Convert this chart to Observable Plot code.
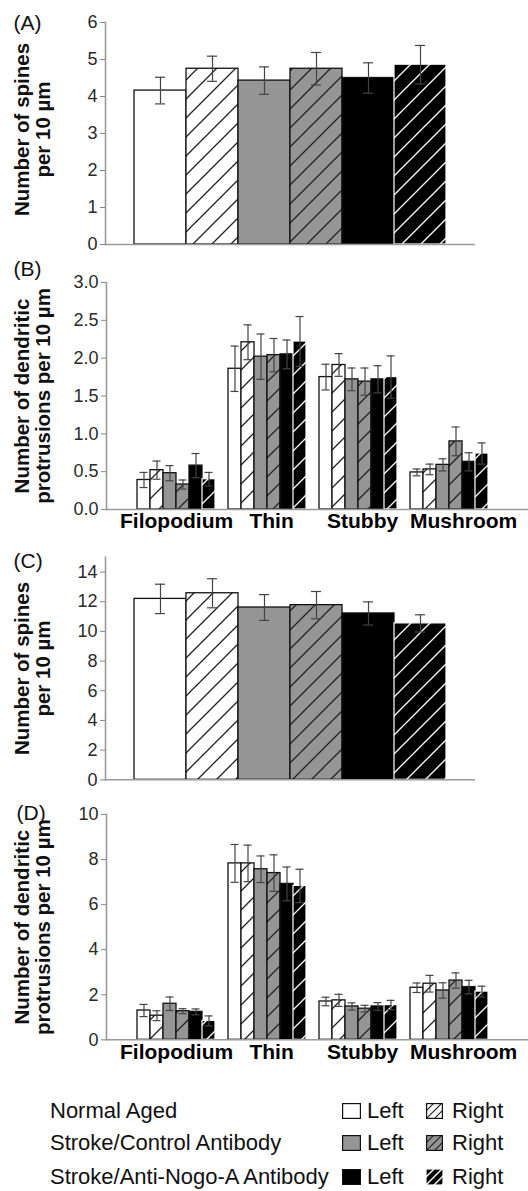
<!DOCTYPE html>
<html><head><meta charset="utf-8">
<script src="https://cdn.jsdelivr.net/npm/d3@7"></script>
<script src="https://cdn.jsdelivr.net/npm/@observablehq/plot@0.6"></script>
<style>
body{margin:0;background:#fff;font-family:"Liberation Sans",Arial,sans-serif;}
#wrap{width:528px;}
#wrap svg{display:block;}
#legend{position:relative;width:528px;height:121px;font-size:22px;color:#111;}
.row{position:absolute;left:0;width:528px;height:26px;line-height:26px;}
.row span,.row svg{position:absolute;}
</style></head><body>
<svg width="0" height="0" style="position:absolute">
<defs>
 <pattern id="hatchW" patternUnits="userSpaceOnUse" width="19" height="19">
  <rect width="19" height="19" fill="#fff"/>
  <path d="M0,19 L19,0 M-2,2 L2,-2 M17,21 L21,17" stroke="#222" stroke-width="1.3"/>
 </pattern>
 <pattern id="hatchG" patternUnits="userSpaceOnUse" width="19" height="19">
  <rect width="19" height="19" fill="#959595"/>
  <path d="M0,19 L19,0 M-2,2 L2,-2 M17,21 L21,17" stroke="#222" stroke-width="1.3"/>
 </pattern>
 <pattern id="hatchK" patternUnits="userSpaceOnUse" width="19" height="19">
  <rect width="19" height="19" fill="#000"/>
  <path d="M0,19 L19,0 M-2,2 L2,-2 M17,21 L21,17" stroke="#fff" stroke-width="1.3"/>
 </pattern>
 <pattern id="sHatchW" patternUnits="userSpaceOnUse" width="8" height="8">
  <rect width="8" height="8" fill="#fff"/>
  <path d="M0,8 L8,0 M-2,2 L2,-2 M6,10 L10,6" stroke="#222" stroke-width="1.2"/>
 </pattern>
 <pattern id="sHatchG" patternUnits="userSpaceOnUse" width="8" height="8">
  <rect width="8" height="8" fill="#959595"/>
  <path d="M0,8 L8,0 M-2,2 L2,-2 M6,10 L10,6" stroke="#222" stroke-width="1.2"/>
 </pattern>
 <pattern id="sHatchK" patternUnits="userSpaceOnUse" width="8" height="8">
  <rect width="8" height="8" fill="#000"/>
  <path d="M0,8 L8,0 M-2,2 L2,-2 M6,10 L10,6" stroke="#fff" stroke-width="1.4"/>
 </pattern>
</defs></svg>
<div id="wrap"></div>
<div id="legend"></div>
<script>
// ---------- data ----------
const series = ["Normal Aged Left","Normal Aged Right","Stroke/Control Left","Stroke/Control Right","Anti-Nogo-A Left","Anti-Nogo-A Right"];
const groups = ["Normal Aged","Stroke/Control Antibody","Stroke/Anti-Nogo-A Antibody"];
const sides = ["Left","Right"];
const seriesFill = ["#fff","url(#hatchW)","#959595","url(#hatchG)","#000","url(#hatchK)"];
const swatchFill = [["#fff","url(#sHatchW)"],["#959595","url(#sHatchG)"],["#000","url(#sHatchK)"]];

const spinesA = [4.16,4.75,4.43,4.75,4.50,4.86];
const spinesAErr = [0.36,0.34,0.37,0.44,0.41,0.52];

const types = ["Filopodium","Thin","Stubby","Mushroom"];
const protB = [
  [0.39,0.52,0.48,0.33,0.58,0.40],
  [1.86,2.21,2.02,2.04,2.05,2.22],
  [1.75,1.91,1.72,1.69,1.72,1.75],
  [0.49,0.53,0.59,0.90,0.63,0.74]];
const protBErr = [
  [0.10,0.12,0.10,0.06,0.16,0.09],
  [0.30,0.23,0.30,0.22,0.19,0.33],
  [0.17,0.15,0.15,0.18,0.18,0.28],
  [0.045,0.07,0.08,0.19,0.12,0.14]];

const spinesC = [12.19,12.57,11.61,11.77,11.21,10.54];
const spinesCErr = [0.99,0.98,0.87,0.92,0.78,0.58];

const protD = [
  [1.30,1.07,1.60,1.27,1.24,0.84],
  [7.83,7.83,7.57,7.40,6.92,6.83],
  [1.70,1.75,1.48,1.38,1.48,1.54],
  [2.31,2.49,2.19,2.63,2.34,2.14]];
const protDErr = [
  [0.27,0.22,0.30,0.11,0.13,0.22],
  [0.84,0.81,0.59,0.81,0.75,0.74],
  [0.19,0.27,0.16,0.15,0.17,0.21],
  [0.21,0.37,0.34,0.34,0.30,0.24]];

const ticksA = [0,1,2,3,4,5,6];
const ticksB = [0,0.5,1,1.5,2,2.5,3];
const ticksC = [0,2,4,6,8,10,12,14];
const ticksD = [0,2,4,6,8,10];
const titleSpines = "Number of spines\nper 10 µm";
const titleProt = "Number of dendritic\nprotrusions per 10 µm";

// ---------- drawing ----------
const font = '"Liberation Sans", Arial, sans-serif';
const axisGray = "#9a9a9a";
const errColor = "#444";
const labelNudge = [0, 4, 4, 14]; // small horizontal nudges of the group labels, as in the figure

function commonMarks(data, xKey, o) {
  return [
    Plot.barY(data, {x: xKey, y: "v", fill: "s", stroke: "#111", strokeWidth: 1.3, filter: d => d.s !== series[5]}),
    Plot.barY(data, {x: xKey, y: "v", fill: "s", stroke: "#fff", strokeWidth: 1.2, filter: d => d.s === series[5]}),
    Plot.ruleX(data, {x: xKey, y1: d => d.v - d.e, y2: d => d.v + d.e, stroke: errColor, strokeWidth: 1.2}),
    Plot.tickY(data, {x: xKey, y: d => d.v + d.e, inset: o.capInset, stroke: errColor, strokeWidth: 1.2}),
    Plot.tickY(data, {x: xKey, y: d => d.v - d.e, inset: o.capInset, stroke: errColor, strokeWidth: 1.2}),
    Plot.ruleY([0], {stroke: axisGray, strokeWidth: 1.6}),
    Plot.frame({anchor: "left", stroke: axisGray, strokeWidth: 1.6}),
    Plot.axisY({ticks: o.ticks, tickFormat: o.tickFormat, tickSize: 5, tickPadding: 3, stroke: "#888", color: "#2a2a2a", label: null, fontSize: 18}),
    Plot.text([o.title], {text: d => d, frameAnchor: "left", rotate: -90, textAnchor: "middle", dx: o.titleDx, dy: o.titleDy, lineHeight: 1.05, lineAnchor: "middle", fontWeight: "bold", fontSize: 20.5, fill: "#111"}),
    Plot.text([o.tag], {text: d => d, frameAnchor: "top-left", textAnchor: "start", lineAnchor: "middle", dx: o.tagDx, dy: o.tagDy, fontSize: 21, fill: "#111"})
  ];
}

function simplePanel(values, errs, o) {
  const data = series.map((s, i) => ({s, v: values[i], e: errs[i]}));
  return Plot.plot({
    width: 528, height: o.height,
    marginTop: o.mt, marginBottom: o.mb, marginLeft: 105, marginRight: 53,
    style: {fontFamily: font, fontSize: "18px", background: "#fff", overflow: "visible"},
    x: {domain: series, paddingInner: 0, paddingOuter: 0.5, axis: null},
    y: {domain: o.domain},
    color: {domain: series, range: seriesFill},
    marks: commonMarks(data, "s", o)
  });
}

function groupedPanel(values, errs, o) {
  const key = (t, s) => t + "|" + s;
  // one slot per bar, plus one empty slot between consecutive groups
  const slots = types.flatMap((t, j) => [...series.map(s => key(t, s)), ...(j < types.length - 1 ? [key(t, "gap")] : [])]);
  const data = types.flatMap((t, j) => series.map((s, i) => ({t, s, k: key(t, s), v: values[j][i], e: errs[j][i]})));
  const ml = 106, mr = 0, po = 2.5;
  const bw = (528 - ml - mr) / (slots.length + 2 * po);
  return Plot.plot({
    width: 528, height: o.height,
    marginTop: o.mt, marginBottom: o.mb, marginLeft: ml, marginRight: mr,
    style: {fontFamily: font, fontSize: "18px", background: "#fff", overflow: "visible"},
    x: {domain: slots, paddingInner: 0, paddingOuter: po, align: 0.44, axis: null},
    y: {domain: o.domain},
    color: {domain: series, range: seriesFill},
    marks: [
      ...commonMarks(data, "k", o),
      // group labels, centred between the 3rd and 4th bar of each group
      ...types.map((t, j) => Plot.text([t], {x: d => key(d, series[2]), text: d => d, frameAnchor: "bottom",
        dx: bw / 2 + labelNudge[j], dy: 4, textAnchor: "middle", lineAnchor: "top",
        fontWeight: "bold", fontSize: 21, fill: "#000"}))
    ]
  });
}

const wrap = document.getElementById("wrap");
wrap.append(simplePanel(spinesA, spinesAErr, {
  height: 250, mt: 22, mb: 6, domain: [0, 6], ticks: ticksA, tickFormat: d3.format("d"),
  capInset: 21, title: titleSpines, titleDx: -73, titleDy: -4, tag: "(A)", tagDx: -92, tagDy: 1
}));
wrap.append(groupedPanel(protB, protBErr, {
  height: 290, mt: 32, mb: 31, domain: [0, 3], ticks: ticksB, tickFormat: d3.format(".1f"),
  capInset: 2.5, title: titleProt, titleDx: -74, titleDy: 0, tag: "(B)", tagDx: -93, tagDy: -13
}));
wrap.append(simplePanel(spinesC, spinesCErr, {
  height: 250, mt: 16.7, mb: 10.7, domain: [0, 15], ticks: ticksC, tickFormat: d3.format("d"),
  capInset: 21, title: titleSpines, titleDx: -73, titleDy: 0, tag: "(C)", tagDx: -92, tagDy: 4
}));
wrap.append(groupedPanel(protD, protDErr, {
  height: 280, mt: 24, mb: 30.7, domain: [0, 10], ticks: ticksD, tickFormat: d3.format("d"),
  capInset: 2.5, title: titleProt, titleDx: -74, titleDy: 0, tag: "(D)", tagDx: -90, tagDy: -1
}));

// ---------- legend ----------
const legend = d3.select("#legend");
const rowTops = [28, 60, 94];
groups.forEach((g, gi) => {
  const row = legend.append("div").attr("class", "row").style("top", rowTops[gi] + "px");
  row.append("span").style("left", "50px").text(g);
  sides.forEach((side, si) => {
    const sx = si === 0 ? 342 : 426, w = si === 0 ? 19 : 17;
    const sv = row.append("svg").attr("width", w).attr("height", 16)
      .style("left", sx + "px").style("top", "5px");
    sv.append("rect").attr("x", 0.6).attr("y", 0.6).attr("width", w - 1.2).attr("height", 14.8)
      .attr("fill", swatchFill[gi][si])
      .attr("stroke", gi === 2 && si === 1 ? "none" : "#111").attr("stroke-width", 1.2);
    row.append("span").style("left", (si === 0 ? 367 : 452) + "px").text(side);
  });
});
</script>
</body></html>
